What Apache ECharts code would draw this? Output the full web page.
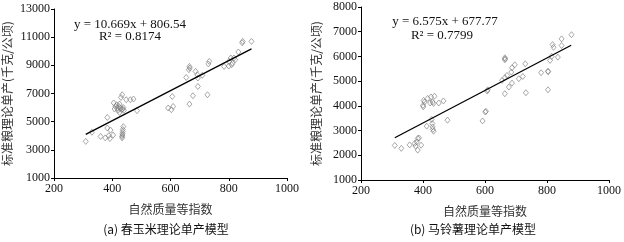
<!DOCTYPE html>
<html>
<head>
<meta charset="utf-8">
<script src="https://cdn.jsdelivr.net/npm/echarts@6/dist/echarts.min.js"></script>
<style>
  html, body { margin: 0; padding: 0; background: #fff; }
  #myChart { width: 624px; height: 242px; }
</style>
</head>
<body>
<div id="myChart"></div>
<script>
// 春玉米: [自然质量等指数, 标准粮理论单产]
var cornPoints = [
  [309, 3600], [330, 4250], [360, 3950], [376, 3850], [383, 5300], [383, 4550], [388, 4000],
  [392, 3800], [394, 4400], [403, 4050],
  [434, 3850], [434, 3950], [435, 4050], [435, 4150], [436, 4300], [436, 4450], [438, 4650],
  [405, 6330], [408, 5900], [411, 6080], [415, 6200], [417, 5970], [420, 5800], [423, 6080],
  [425, 5650], [428, 5970], [430, 6720], [432, 5850], [434, 6910], [436, 5900], [438, 6000],
  [448, 6560], [462, 6560], [473, 6610], [485, 5780], [425, 6250], [440, 5800],
  [592, 5970], [603, 5850], [606, 6790], [609, 6080],
  [654, 8140], [663, 8690], [665, 8920], [666, 8810], [665, 6250], [677, 6840], [686, 8570],
  [692, 8330], [694, 8100], [694, 7500], [709, 8290], [727, 6910], [730, 9100], [733, 9280],
  [784, 8920], [800, 8950], [801, 9280], [807, 9520], [810, 9040], [813, 9160], [818, 9520],
  [822, 9400], [833, 9950], [846, 10600], [848, 10700], [878, 10700]
];
// 马铃薯
var potatoPoints = [
  [309, 2400], [330, 2280], [357, 2420], [373, 2480], [376, 2370], [380, 2540], [383, 2210],
  [387, 2700], [394, 2410], [383, 2680],
  [400, 4020], [401, 3960], [402, 4220], [405, 4155], [415, 4300], [423, 4115], [426, 4360],
  [431, 4155], [434, 4100], [437, 4390], [451, 4115], [466, 4200],
  [412, 3180], [428, 3450], [430, 3285], [431, 3150], [432, 3050], [434, 2975], [479, 3420],
  [592, 3390], [601, 3750], [603, 3780], [607, 4600], [609, 4650],
  [655, 5030], [664, 5140], [664, 5945], [664, 5865], [665, 5900], [664, 4490], [671, 5230],
  [677, 4760], [685, 5365], [687, 5540], [687, 4920], [696, 5660], [709, 5100], [722, 5190],
  [730, 5700], [732, 4530], [781, 5340], [803, 5400], [804, 5380], [803, 4650], [810, 5840],
  [815, 6000], [818, 6480], [821, 6370], [835, 5970], [847, 6440], [847, 6710], [879, 6880]
];
// trend line ends (x 309 -> 878)
var cornTrend = [[309, 4103], [878, 10174]];
var potatoTrend = [[309, 2709], [878, 6451]];

var xName = '自然质量等指数';
var yName = '标准粮理论单产(千克/公顷)';
var captions = ['(a) 春玉米理论单产模型', '(b) 马铃薯理论单产模型'];
var equations = ['y = 10.669x + 806.54', 'y = 6.575x + 677.77'];
var rSquared = ['R² = 0.8174', 'R² = 0.7799'];

var serif = '"Liberation Serif", "Noto Sans CJK SC", serif';
var cjk = '"Noto Sans CJK SC", sans-serif';

function plain(v) {
  return String(v); // no thousands separator
}

function makeX(gridIndex) {
  return {
    gridIndex: gridIndex,
    type: 'value',
    min: 200,
    max: 1000,
    interval: 200,
    name: xName,
    nameLocation: 'middle',
    nameGap: 25,
    nameTextStyle: { color: '#333', fontSize: 12, fontFamily: cjk },
    axisLine: { lineStyle: { color: '#000', width: 1 } },
    axisTick: { show: true, length: 3, lineStyle: { color: '#000' } },
    axisLabel: { color: '#111', fontSize: 12, fontFamily: serif, margin: 5, formatter: plain },
    splitLine: { show: false },
  };
}

function makeY(gridIndex, min, max, interval, gap) {
  return {
    gridIndex: gridIndex,
    type: 'value',
    min: min,
    max: max,
    interval: interval,
    name: yName,
    nameLocation: 'middle',
    nameGap: gap,
    nameRotate: 90,
    nameTextStyle: { color: '#333', fontSize: 12, fontFamily: cjk },
    axisLine: { show: true, lineStyle: { color: '#000', width: 1 } },
    axisTick: { show: true, length: 3, lineStyle: { color: '#000' } },
    axisLabel: { color: '#111', fontSize: 12, fontFamily: serif, margin: 4, formatter: plain },
    splitLine: { show: false },
  };
}

function scatter(idx, data) {
  return {
    type: 'scatter',
    xAxisIndex: idx,
    yAxisIndex: idx,
    data: data,
    symbol: 'diamond',
    symbolSize: [5, 6],
    itemStyle: { color: 'rgba(255,255,255,0)', borderColor: '#777', borderWidth: 0.8 },
    silent: true,
  };
}

function trend(idx, data) {
  return {
    type: 'line',
    xAxisIndex: idx,
    yAxisIndex: idx,
    data: data,
    symbol: 'none',
    lineStyle: { color: '#000', width: 1.3 },
    z: 5,
    silent: true,
  };
}

function label(text, x, y, size, font) {
  return {
    text: text,
    left: x,
    top: y,
    textAlign: 'center',
    textVerticalAlign: 'middle',
    textStyle: { color: '#111', fontSize: size, fontWeight: 'normal', fontFamily: font },
    padding: 0,
  };
}

var chartInst = echarts.init(document.getElementById('myChart'), null, { renderer: 'canvas' });
chartInst.setOption({
  backgroundColor: '#fff',
  animation: false,
  title: [
    label(equations[0], 130, 25, 13, serif),
    label(rSquared[0], 130, 37, 13, serif),
    label(equations[1], 445, 22, 13, serif),
    label(rSquared[1], 442, 36, 13, serif),
    label(captions[0], 166, 229, 12, cjk),
    label(captions[1], 473, 229, 12, cjk),
  ],
  grid: [
    { left: 51, top: 9, width: 236, height: 169 },
    { left: 361, top: 7, width: 250, height: 173 },
  ],
  xAxis: [makeX(0), makeX(1)],
  yAxis: [makeY(0, 1000, 13000, 2000, 41), makeY(1, 1000, 8000, 1000, 39)],
  series: [
    scatter(0, cornPoints),
    trend(0, cornTrend),
    scatter(1, potatoPoints),
    trend(1, potatoTrend),
  ],
});
</script>
</body>
</html>
